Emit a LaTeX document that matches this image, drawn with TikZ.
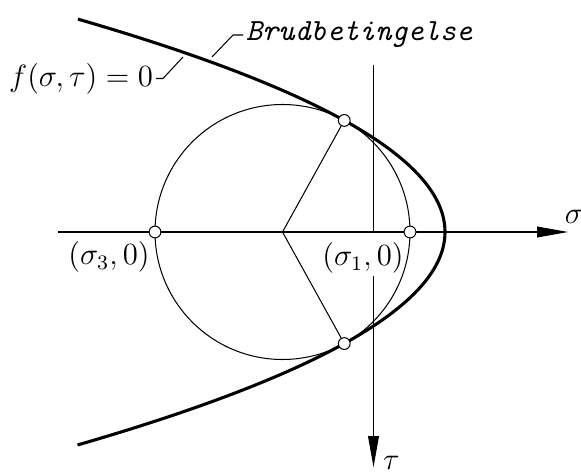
\documentclass[tikz,border=0pt]{standalone}
\usepackage{amsmath}
\usepackage{amssymb}
\usetikzlibrary{arrows.meta}

\begin{document}
\begin{tikzpicture}[x=1.37cm, y=1.37cm,
    pt/.style={circle, draw, fill=white, inner sep=0pt, minimum size=4.6pt},
    axisarrow/.style={-{Triangle[length=12pt,width=4.2pt]}},
    lbl/.style={font=\large, inner sep=1pt}]

    \useasboundingbox (0,0) rectangle (5.81,4.72);

    % Axes
    \coordinate (hl) at (0.58,2.40);
    \coordinate (hr) at (5.68,2.40);
    \coordinate (vtop) at (3.735,4.07);
    \coordinate (vbot) at (3.735,0.05);
    \draw[axisarrow] (hl) -- (hr);
    \node[lbl] (sig) at (5.74,2.555) {$\sigma$};
    \node[lbl] (tau) at (3.915,0.09) {$\tau$};

    % Labels on the sigma axis
    \node[lbl] (s3) at (1.09,2.15) {$(\sigma_3,0)$};
    \node[lbl] (s1) at (3.63,2.14) {$(\sigma_1,0)$};

    \draw (vtop) -- (vtop |- hl);
    \draw[axisarrow] (s1.south -| vtop) -- (vbot);

    % Mohr circle
    \coordinate (C) at (2.825,2.40);
    \draw (C) circle (1.275);

    % Failure envelope
    \draw[line width=1.2pt] plot[variable=\t, domain=-2.13:2.13, samples=80, smooth]
        ({4.45-0.81*\t*\t}, {2.40+\t});

    % Radii to the points of contact
    \node[pt] (T1) at (3.4425,3.5155) {};
    \node[pt] (T2) at (3.4425,1.2845) {};
    \draw (T1) -- (C) -- (T2);

    % Principal stresses
    \node[pt] (P3) at (1.55,2.40) {};
    \node[pt] (P1) at (4.10,2.40) {};

    % Leaders
    \node[lbl, anchor=east] (fl) at (1.56,3.935) {$f(\sigma,\tau)=0$};
    \coordinate (fe) at (1.83,4.15);
    \draw (fl.east) -- ++(0.07,0) -- (fe);

    \coordinate (bs) at (2.12,4.15);
    \coordinate (bk) at (2.33,4.37);
    \node[lbl, anchor=west, font=\large\ttfamily\itshape] (brud) at (2.43,4.37) {Brudbetingelse};
    \draw (bs) -- (bk) -- (brud.west);

\end{tikzpicture}
\end{document}
